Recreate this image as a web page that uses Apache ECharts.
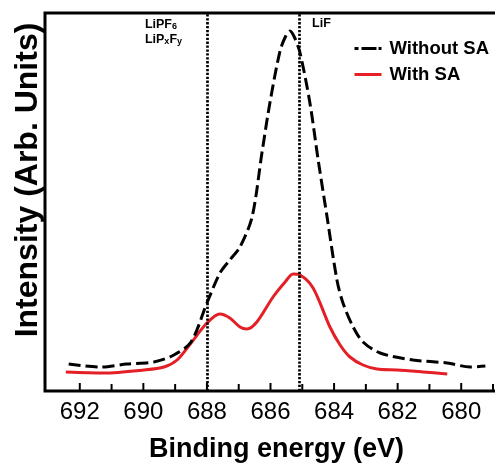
<!DOCTYPE html>
<html>
<head>
<meta charset="utf-8">
<script src="https://cdn.jsdelivr.net/npm/echarts@6/dist/echarts.min.js"></script>
<style>
  html, body { margin: 0; padding: 0; background: #fff; }
  #chart { width: 495px; height: 463px; }
</style>
</head>
<body>
<div id="chart"></div>
<script>
const FONT = '"Liberation Sans", Arial, Helvetica, sans-serif'

// Without SA (black dashed)
const withoutEnergy = [692.35, 691.34, 690.52, 689.67, 689.04, 688.50, 688.00, 687.59, 687.28, 686.96,
  686.58, 686.27, 686.02, 685.70, 685.52, 685.39, 685.25, 685.07, 684.76, 684.50, 684.22, 683.91,
  683.72, 683.40, 683.09, 682.55, 681.51, 680.44, 679.72, 679.24]
const withoutIntensity = [27, 24, 27, 29, 36, 49, 88, 118, 131, 144,
  174, 238, 288, 340, 355, 360, 354, 338, 288, 231, 174, 111,
  88, 64, 49, 38, 31, 28, 24, 25]

// With SA (red solid)
const withEnergy = [692.44, 691.24, 689.98, 689.35, 688.94, 688.50, 688.00, 687.59, 687.28, 686.96,
  686.74, 686.43, 685.92, 685.54, 685.29, 685.07, 684.66, 684.13, 683.81, 683.50, 683.09, 682.65,
  682.02, 681.20, 680.44]
const withIntensity = [19, 18, 21, 24, 31, 48, 68, 77, 73, 64,
  62, 69, 94, 109, 117, 116, 103, 64, 46, 34, 26, 22,
  21, 19, 17]

// tick positions on the energy axis (labels on the even ones)
const tickValues = [680, 681, 682, 683, 684, 685, 686, 687, 688, 689, 690, 691, 692, 679]

const refLines = [688.0, 685.1]
const xMin = 679
const xMax = 693

const zip = (xs, ys) => xs.map((x, i) => [x, ys[i]])

// plot frame (left, top, bottom edges) in pixels
const frameL = 45, frameT = 13, frameB = 391, frameR = 495
const bigBounds = { left: -1000, right: -1000, top: -1000, bottom: -1000 }

const chart = echarts.init(document.getElementById('chart'))

chart.setOption({
  animation: false,
  textStyle: { fontFamily: FONT },
  grid: { left: 48, right: 2, top: frameT, bottom: 463 - frameB, outerBounds: bigBounds },
  legend: {
    orient: 'vertical',
    left: 353,
    top: 39,
    padding: 0,
    itemWidth: 27,
    itemHeight: 18,
    itemGap: 7,
    textStyle: { fontFamily: FONT, fontSize: 18.5, fontWeight: 'bold', color: '#000', lineHeight: 18, padding: [0, 0, 0, 3] },
    data: [
      { name: 'Without SA', itemStyle: { opacity: 0 }, lineStyle: { type: [4, 3, 15, 2], width: 3, color: '#000' } },
      { name: 'With SA', itemStyle: { opacity: 0 }, lineStyle: { width: 3, color: '#e41f26' } }
    ]
  },
  xAxis: {
    type: 'value',
    inverse: true,
    min: xMin,
    max: xMax,
    interval: 1,
    name: 'Binding energy (eV)',
    nameLocation: 'middle',
    nameGap: 45,
    nameTextStyle: { fontFamily: FONT, fontSize: 27, fontWeight: 'bold', color: '#000', padding: [0, 0, 0, 12] },
    axisLine: { show: false },
    axisTick: { show: false },
    axisLabel: {
      fontFamily: FONT, fontSize: 24, color: '#000', margin: 9,
      formatter: v => (v % 2 === 0 ? String(v) : '')
    },
    splitLine: { show: false }
  },
  yAxis: {
    type: 'value',
    min: 0,
    max: 378,
    axisLine: { show: false },
    axisTick: { show: false },
    axisLabel: { show: false },
    splitLine: { show: false }
  },
  series: [
    {
      name: 'Without SA',
      type: 'line',
      data: zip(withoutEnergy, withoutIntensity),
      smooth: 0.3,
      symbol: 'none',
      lineStyle: { color: '#000', width: 3, type: [12, 5] },
      itemStyle: { color: '#000' },
      z: 3,
      markLine: {
        silent: true,
        symbol: 'none',
        label: { show: false },
        lineStyle: { color: '#000', width: 2.7, type: [2.3, 1.6] },
        data: refLines.map(x => ({ xAxis: x }))
      }
    },
    {
      name: 'With SA',
      type: 'line',
      data: zip(withEnergy, withIntensity),
      smooth: 0.3,
      symbol: 'none',
      lineStyle: { color: '#e41f26', width: 3 },
      itemStyle: { color: '#e41f26' },
      z: 2
    },
    {
      // inward tick marks along the bottom edge
      name: 'ticks',
      type: 'custom',
      silent: true,
      z: 5,
      data: tickValues.map(v => [v, 0]),
      renderItem: (params, api) => {
        const v = api.value(0)
        const p = api.coord([v, 0])
        const len = v % 2 === 0 ? 8 : 7
        return {
          type: 'line',
          shape: { x1: p[0], y1: p[1], x2: p[0], y2: p[1] - len },
          style: { stroke: '#000', lineWidth: 2 }
        }
      }
    }
  ]
})

const px688 = chart.convertToPixel({ xAxisIndex: 0 }, refLines[0])
const pxLiF = chart.convertToPixel({ xAxisIndex: 0 }, refLines[1])
const rich = {
  a: { fontFamily: FONT, fontSize: 12.5, fontWeight: 'bold', fill: '#000', lineHeight: 15 },
  s: { fontFamily: FONT, fontSize: 9, fontWeight: 'bold', fill: '#000', padding: [5, 0, 0, 0], lineHeight: 15 }
}

chart.setOption({
  graphic: [
    {
      type: 'polyline', z: 10, silent: true,
      shape: { points: [[frameR + 2, frameT], [frameL, frameT], [frameL, frameB], [frameR + 2, frameB]] },
      style: { stroke: '#000', lineWidth: 3, fill: null, lineJoin: 'miter' }
    },
    {
      type: 'text', left: px688 - 62, top: 17,
      style: { text: '{a|LiPF}{s|6}\n{a|LiP}{s|x}{a|F}{s|y}', rich: rich, lineHeight: 15 }
    },
    {
      type: 'text', left: pxLiF + 13, top: 17,
      style: { text: 'LiF', font: 'bold 12.5px ' + FONT, fill: '#000' }
    },
    {
      type: 'text', x: 28, y: 180, rotation: Math.PI / 2,
      style: {
        text: 'Intensity (Arb. Units)', font: 'bold 32px ' + FONT, fill: '#000',
        textAlign: 'center', textVerticalAlign: 'middle'
      }
    }
  ]
})
</script>
</body>
</html>
